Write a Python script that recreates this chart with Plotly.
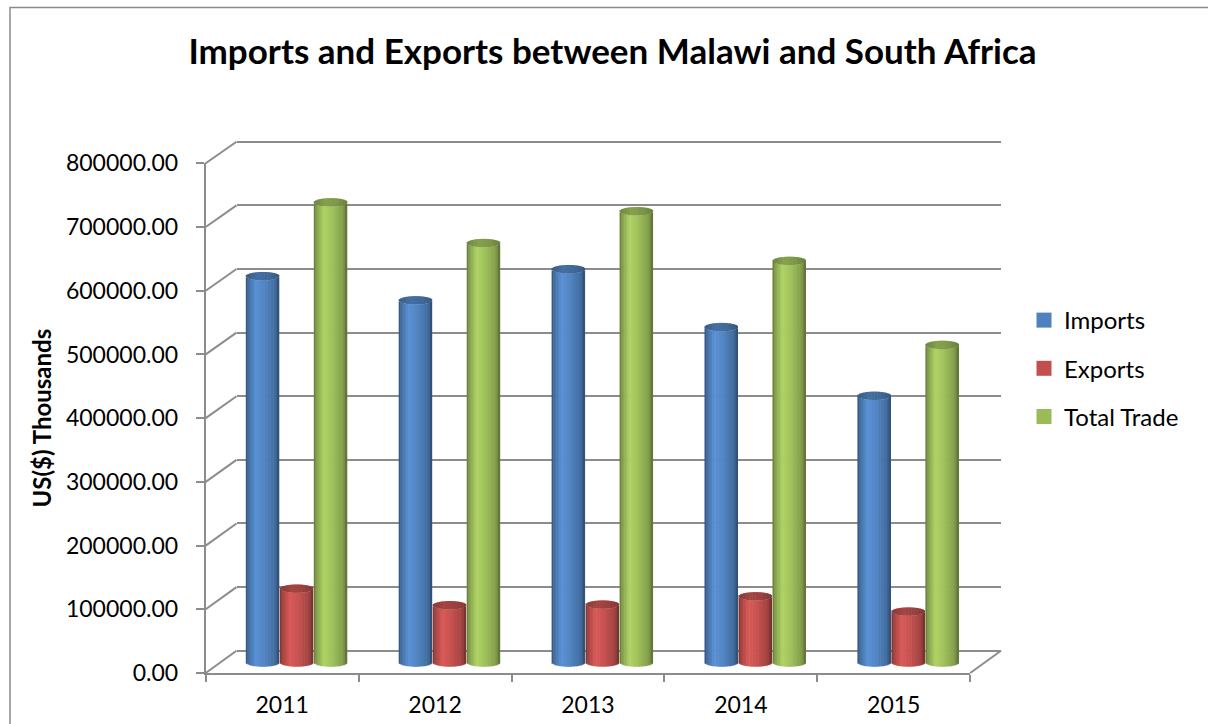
import math
import plotly.graph_objects as go

# ---- data -------------------------------------------------------------
years = ["2011", "2012", "2013", "2014", "2015"]
imports = [607000, 569000, 618000, 527000, 419000]
exports = [116000, 90000, 91000, 104000, 80000]
total_trade = [723000, 659000, 709000, 631000, 499000]
value_ticks = [0, 100000, 200000, 300000, 400000, 500000, 600000, 700000, 800000]

# ---- canvas / geometry (pixels) -----------------------------------------
W, H = 1208, 724


def px_x(p):
    return p / W


def px_y(p):
    return (H - p) / H


FRONT_LEFT, FRONT_RIGHT = 205.7, 970.2      # floor front edge
FRONT_ZERO, FRONT_TOP = 673.0, 163.3        # front value axis 0 .. 800000
DEPTH_DX, DEPTH_DY = 30.8, 22.3             # depth offset of the back wall
BACK_LEFT, BACK_RIGHT = FRONT_LEFT + DEPTH_DX, FRONT_RIGHT + DEPTH_DX
BACK_ZERO, BACK_TOP = FRONT_ZERO - DEPTH_DY, 141.7
CAT = (FRONT_RIGHT - FRONT_LEFT) / len(years)

K_FRONT = (FRONT_ZERO - FRONT_TOP) / 800000.0
K_BACK = (BACK_ZERO - BACK_TOP) / 800000.0

# columns stand half way into the depth
BAR_ZERO = 662.5
K_BAR = 63.65 / 100000.0
GROUP0 = FRONT_LEFT + CAT * 0.5 + DEPTH_DX / 2 - 1.0
SLOT_PX, BAR_PX = 34.0, 33.5
RY = 4.2 / K_BAR                              # half height of the end ellipses

GRID = "#8C8C8C"
FONT = "Lato"

series = [
    ("Imports", imports, (79, 129, 189)),
    ("Exports", exports, (192, 80, 77)),
    ("Total Trade", total_trade, (155, 187, 89)),
]

# light falls from the left: brightness across a cylinder's width
BODY_PROFILE = [(0.0, 0.62), (0.07, 0.84), (0.3, 1.13), (0.55, 1.03), (0.85, 0.86), (1.0, 0.6)]
CAP_PROFILE = [(0.0, 0.7), (0.35, 0.86), (0.7, 0.8), (1.0, 0.68)]


def profile(points, u):
    for (u0, f0), (u1, f1) in zip(points, points[1:]):
        if u <= u1:
            return f0 + (f1 - f0) * (u - u0) / (u1 - u0)
    return points[-1][1]


def shade(rgb, f):
    return "rgb(%d,%d,%d)" % tuple(max(0, min(255, round(c * f))) for c in rgb)


N_BANDS = 22
unit = 1.0 / CAT                                # data units per pixel on x2
bar_w = BAR_PX * unit

fig = go.Figure()

# back wall subplot (gridlines only)
fig.add_trace(go.Scatter(x=[None], y=[None], xaxis="x", yaxis="y",
                         showlegend=False, hoverinfo="skip"))

for i, (name, vals, rgb) in enumerate(series):
    slot = (i - 1) * SLOT_PX * unit
    body = dict(x=[], y=[], base=[], width=[], offset=[], color=[])
    cap = dict(x=[], y=[], base=[], width=[], offset=[], color=[])
    for g, v in enumerate(vals):
        for b in range(N_BANDS):
            u0 = b / N_BANDS
            uc = (b + 0.5) / N_BANDS
            s = math.sqrt(max(0.0, 1.0 - (2 * uc - 1) ** 2))
            w = bar_w / N_BANDS * (1.4 if b < N_BANDS - 1 else 1.0)
            off = -bar_w / 2 + u0 * bar_w
            for d, y, base, prof in ((body, v, -RY * s, BODY_PROFILE),
                                     (cap, 2 * RY * s, v - RY * s, CAP_PROFILE)):
                d["x"].append(g + slot)
                d["y"].append(y)
                d["base"].append(base)
                d["width"].append(w)
                d["offset"].append(off)
                d["color"].append(shade(rgb, profile(prof, uc)))
    for d in (body, cap):
        fig.add_trace(go.Bar(
            x=d["x"], y=d["y"], base=d["base"], width=d["width"], offset=d["offset"],
            marker=dict(color=d["color"], line=dict(width=0)),
            xaxis="x2", yaxis="y2", showlegend=False, hoverinfo="skip",
        ))

# legend entries
for name, vals, rgb in series:
    fig.add_trace(go.Scatter(
        x=[None], y=[None], mode="markers", name=name, legendgroup=name,
        marker=dict(symbol="square", size=15, color=shade(rgb, 1.0)),
        xaxis="x2", yaxis="y2",
    ))

# front axes subplot
fig.add_trace(go.Scatter(x=years, y=[None] * len(years), mode="markers",
                         xaxis="x3", yaxis="y3", showlegend=False, hoverinfo="skip"))

# side and floor edges of the 3-D frame
shapes = []
for v in value_ticks:
    shapes.append(dict(
        type="line", xref="paper", yref="paper",
        x0=px_x(FRONT_LEFT), y0=px_y(FRONT_ZERO - v * K_FRONT),
        x1=px_x(BACK_LEFT), y1=px_y(BACK_ZERO - v * K_BACK),
        line=dict(color=GRID, width=2),
    ))
shapes.append(dict(
    type="line", xref="paper", yref="paper",
    x0=px_x(FRONT_RIGHT), y0=px_y(FRONT_ZERO),
    x1=px_x(BACK_RIGHT), y1=px_y(BACK_ZERO),
    line=dict(color=GRID, width=2),
))
# chart area border
shapes.append(dict(
    type="rect", xref="paper", yref="paper",
    x0=px_x(10), y0=px_y(760), x1=px_x(1240), y1=px_y(7.5),
    line=dict(color="#8A8A8A", width=1.5),
))

wall_pad = 20000
tick_font = dict(family=FONT, size=23, color="black")
fig.update_layout(
    template="none",
    width=W, height=H, autosize=False,
    margin=dict(l=0, r=0, t=0, b=0, pad=0, autoexpand=False),
    paper_bgcolor="white", plot_bgcolor="rgba(0,0,0,0)",
    barmode="overlay",
    font=dict(family=FONT, size=22, color="black"),
    title=dict(
        text="<b>Imports and Exports between Malawi and South Africa</b>",
        x=px_x(612.5), xanchor="center", y=px_y(52), yanchor="middle",
        font=dict(family=FONT, size=35, color="black"),
    ),
    xaxis=dict(domain=[px_x(BACK_LEFT), px_x(BACK_RIGHT)], range=[0, 1],
               visible=False, anchor="y"),
    yaxis=dict(domain=[px_y(BACK_ZERO + wall_pad * K_BACK), px_y(BACK_TOP - wall_pad * K_BACK)],
               range=[-wall_pad, 800000 + wall_pad], tickvals=value_ticks,
               showgrid=True, gridcolor=GRID, gridwidth=2, zeroline=False,
               showticklabels=False, ticks="", showline=False, anchor="x"),
    xaxis2=dict(domain=[0, 1], range=[-GROUP0 * unit, (W - GROUP0) * unit],
                visible=False, anchor="y2"),
    yaxis2=dict(domain=[0, 1], range=[(BAR_ZERO - H) / K_BAR, BAR_ZERO / K_BAR],
                visible=False, anchor="x2"),
    xaxis3=dict(domain=[px_x(FRONT_LEFT), px_x(FRONT_RIGHT)], type="category",
                categoryorder="array", categoryarray=years, range=[-0.5, len(years) - 0.5],
                tickson="boundaries", ticks="outside", ticklen=7, tickwidth=2, tickcolor=GRID,
                showline=True, linecolor=GRID, linewidth=2, showgrid=False, zeroline=False,
                tickfont=tick_font, ticklabelstandoff=10, automargin=False,
                anchor="y3"),
    yaxis3=dict(domain=[px_y(FRONT_ZERO), px_y(FRONT_TOP)], range=[0, 800000],
                tickvals=value_ticks, tickformat=".2f", ticks="outside", ticklen=8,
                tickwidth=2, tickcolor=GRID, showline=True, linecolor=GRID, linewidth=2,
                showgrid=False, zeroline=False, automargin=False,
                tickfont=tick_font, ticklabelstandoff=13,
                title=dict(text="<b>US($) Thousands</b>", standoff=8,
                           font=dict(family=FONT, size=24, color="black")),
                anchor="x3"),
    legend=dict(x=px_x(1024), y=px_y(298), xanchor="left", yanchor="top",
                font=dict(family=FONT, size=24, color="black"), tracegroupgap=14,
                bgcolor="rgba(0,0,0,0)", itemsizing="trace"),
    shapes=shapes,
    showlegend=True,
)

fig.write_html("out.html")
